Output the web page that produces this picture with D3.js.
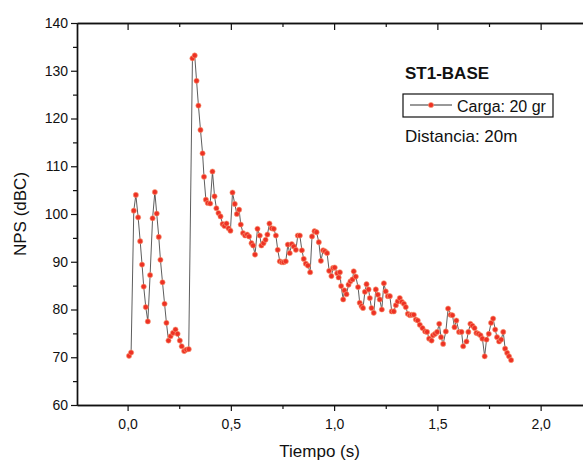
<!DOCTYPE html>
<html>
<head>
<meta charset="utf-8">
<script src="https://cdn.jsdelivr.net/npm/d3@7"></script>
<style>
  body { margin: 0; background: #fff; }
  text { font-family: "Liberation Sans", Arial, sans-serif; fill: #111; }
</style>
</head>
<body>
<script>
// data (time in s, level in dBC)
var tiempo = [
  0.007, 0.017, 0.030, 0.040, 0.051, 0.061, 0.070, 0.078, 0.088, 0.098,
  0.109, 0.121, 0.132, 0.141, 0.151, 0.159, 0.169, 0.179, 0.188, 0.198,
  0.208, 0.220, 0.232, 0.242, 0.253, 0.262, 0.274, 0.285, 0.296, 0.314,
  0.325, 0.334, 0.343, 0.353, 0.363, 0.370, 0.379, 0.388, 0.400, 0.411,
  0.421, 0.430, 0.440, 0.450, 0.460, 0.469, 0.479, 0.489, 0.498, 0.508,
  0.519, 0.529, 0.540, 0.548, 0.559, 0.569, 0.579, 0.588, 0.600, 0.608,
  0.617, 0.629, 0.640, 0.648, 0.658, 0.668, 0.677, 0.687, 0.698, 0.708,
  0.718, 0.727, 0.737, 0.747, 0.756, 0.766, 0.776, 0.785, 0.795, 0.805,
  0.815, 0.824, 0.834, 0.844, 0.853, 0.863, 0.873, 0.884, 0.893, 0.905,
  0.915, 0.926, 0.936, 0.947, 0.956, 0.966, 0.976, 0.987, 0.995, 1.003,
  1.015, 1.022, 1.028, 1.034, 1.044, 1.050, 1.060, 1.070, 1.079, 1.089,
  1.095, 1.105, 1.116, 1.124, 1.133, 1.140, 1.149, 1.157, 1.167, 1.173,
  1.181, 1.192, 1.202, 1.212, 1.221, 1.231, 1.241, 1.250, 1.260, 1.270,
  1.279, 1.289, 1.299, 1.308, 1.318, 1.328, 1.338, 1.347, 1.357, 1.367,
  1.376, 1.386, 1.396, 1.405, 1.415, 1.428, 1.441, 1.450, 1.460, 1.472,
  1.479, 1.489, 1.499, 1.509, 1.518, 1.528, 1.541, 1.552, 1.564, 1.573,
  1.583, 1.592, 1.605, 1.617, 1.625, 1.641, 1.650, 1.660, 1.670, 1.680,
  1.689, 1.699, 1.709, 1.718, 1.729, 1.738, 1.749, 1.760, 1.770, 1.780,
  1.789, 1.799, 1.809, 1.819, 1.828, 1.838, 1.847, 1.857
];
var nps = [
  70.3, 71.0, 100.7, 104.0, 99.3, 94.3, 89.4, 84.8, 80.5, 77.5,
  87.2, 99.1, 104.6, 100.1, 95.2, 90.4, 85.7, 81.2, 77.2, 73.5,
  74.4, 75.1, 75.8, 74.9, 73.5, 72.3, 71.3, 71.6, 71.7, 132.6,
  133.2, 127.9, 122.7, 117.6, 112.7, 107.8, 103.0, 102.3, 102.2, 108.9,
  103.7, 101.2, 100.2, 99.5, 97.9, 97.5, 98.0, 97.0, 96.5, 104.5,
  102.1, 100.0, 100.9, 97.8, 96.0, 95.5, 95.7, 95.3, 93.9, 93.4,
  91.5, 96.9, 95.5, 93.4, 93.9, 94.6, 95.7, 98.0, 97.0, 96.9,
  95.5, 92.5, 90.1, 89.9, 89.9, 90.1, 93.6, 91.8, 93.7, 93.2,
  92.5, 95.5, 95.5, 92.4, 90.6, 89.6, 89.2, 87.8, 95.3, 96.4,
  96.2, 94.1, 90.2, 92.4, 92.2, 91.8, 88.1, 87.0, 88.7, 88.8,
  87.6, 86.7, 87.8, 84.9, 82.1, 84.0, 83.2, 85.2, 85.9, 86.3,
  88.0, 86.9, 84.7, 81.4, 80.7, 80.3, 83.7, 85.3, 84.2, 82.4,
  80.3, 79.3, 84.2, 83.1, 82.1, 80.0, 85.5, 83.8, 82.8, 82.8,
  79.6, 79.6, 80.9, 81.7, 82.4, 81.6, 81.2, 80.5, 79.1, 78.8,
  78.9, 78.9, 77.9, 77.7, 76.8, 76.1, 75.4, 75.3, 73.9, 73.5,
  74.6, 74.9, 75.3, 77.0, 74.2, 72.8, 75.4, 80.2, 78.9, 78.8,
  76.3, 77.7, 75.3, 75.3, 72.3, 73.3, 75.3, 77.0, 76.6, 76.1,
  75.1, 74.9, 74.6, 73.9, 70.2, 73.7, 74.9, 77.2, 78.1, 75.8,
  74.2, 73.3, 73.7, 75.3, 71.8, 70.9, 70.2, 69.4
];
var xTicks = [0, 0.5, 1.0, 1.5, 2.0];
var xMinor = [0.25, 0.75, 1.25, 1.75];
var yTicks = [60, 70, 80, 90, 100, 110, 120, 130, 140];
var yMinor = [65, 75, 85, 95, 105, 115, 125, 135];
var titulo = "ST1-BASE";
var serieNombre = "Carga: 20 gr";
var nota = "Distancia: 20m";

var width = 583, height = 460;
var margin = {top: 23, right: -1, bottom: 55, left: 77};
var plotW = width - margin.left - margin.right,
    plotH = height - margin.top - margin.bottom;

var svg = d3.select("body").append("svg")
    .attr("width", width)
    .attr("height", height);

var g = svg.append("g")
    .attr("transform", "translate(" + margin.left + "," + margin.top + ")");

var x = d3.scaleLinear().domain([-0.245, 2.21]).range([0, plotW]);
var y = d3.scaleLinear().domain([60, 140]).range([plotH, 0]);

var comma = function(d) { return d3.format(".1f")(d).replace(".", ","); };

// axes: bottom and left get labels, top and right are mirrored frames
function styleAxis(sel) {
  sel.select(".domain").attr("stroke", "#111").attr("stroke-width", 1.4);
  sel.selectAll(".tick line").attr("stroke", "#111").attr("stroke-width", 1.2);
  sel.selectAll("text").style("font-size", "14px")
     .style("font-family", "'Liberation Sans', Arial, sans-serif").attr("fill", "#111");
}

g.append("g").attr("transform", "translate(0," + plotH + ")")
  .call(d3.axisBottom(x).tickValues(xTicks).tickFormat(comma).tickSize(6).tickSizeOuter(0).tickPadding(8))
  .call(styleAxis);
g.append("g").attr("transform", "translate(0," + plotH + ")")
  .call(d3.axisBottom(x).tickValues(xMinor).tickFormat("").tickSize(4).tickSizeOuter(0))
  .call(styleAxis);

g.append("g")
  .call(d3.axisLeft(y).tickValues(yTicks).tickSize(6).tickSizeOuter(0).tickPadding(3))
  .call(styleAxis);
g.append("g")
  .call(d3.axisLeft(y).tickValues(yMinor).tickFormat("").tickSize(4).tickSizeOuter(0))
  .call(styleAxis);

g.append("g")
  .call(d3.axisBottom(x).tickValues(xTicks).tickFormat("").tickSize(7).tickSizeOuter(0))
  .call(styleAxis);
g.append("g")
  .call(d3.axisBottom(x).tickValues(xMinor).tickFormat("").tickSize(4).tickSizeOuter(0))
  .call(styleAxis);

g.append("g").attr("transform", "translate(" + plotW + ",0)")
  .call(d3.axisLeft(y).tickValues(yTicks).tickFormat("").tickSize(-6).tickSizeOuter(0))
  .call(styleAxis);

// axis titles
svg.append("text")
  .attr("x", margin.left + x(0.93)).attr("y", 457)
  .attr("text-anchor", "middle")
  .style("font-size", "17px")
  .text("Tiempo (s)");

svg.append("text")
  .attr("transform", "translate(26," + (margin.top + plotH / 2) + ") rotate(-90)")
  .attr("text-anchor", "middle")
  .style("font-size", "17px")
  .text("NPS (dBC)");

// series
var pts = tiempo.map(function(t, i) { return {t: t, v: nps[i]}; });

var line = d3.line()
  .x(function(d) { return x(d.t); })
  .y(function(d) { return y(d.v); });

g.append("path")
  .datum(pts)
  .attr("fill", "none")
  .attr("stroke", "#333")
  .attr("stroke-width", 0.8)
  .attr("d", line);

g.selectAll("circle.pt")
  .data(pts)
  .enter().append("circle")
  .attr("class", "pt")
  .attr("cx", function(d) { return x(d.t); })
  .attr("cy", function(d) { return y(d.v); })
  .attr("r", 2.6)
  .attr("fill", "#ee3124")
  .attr("stroke", "#f7a07a")
  .attr("stroke-width", 0.6);

// title + legend + note
svg.append("text")
  .attr("x", 405).attr("y", 79)
  .style("font-size", "17px").style("font-weight", "bold")
  .text(titulo);

svg.append("rect")
  .attr("x", 403).attr("y", 94)
  .attr("width", 150).attr("height", 23)
  .attr("fill", "none").attr("stroke", "#111").attr("stroke-width", 1.2);

svg.append("line")
  .attr("x1", 410).attr("x2", 452).attr("y1", 105).attr("y2", 105)
  .attr("stroke", "#333").attr("stroke-width", 1);
svg.append("circle")
  .attr("cx", 431).attr("cy", 105).attr("r", 2.6)
  .attr("fill", "#ee3124").attr("stroke", "#f7a07a").attr("stroke-width", 0.6);

svg.append("text")
  .attr("x", 457).attr("y", 112)
  .style("font-size", "16px")
  .text(serieNombre);

svg.append("text")
  .attr("x", 405).attr("y", 142)
  .style("font-size", "17px")
  .text(nota);
</script>
</body>
</html>
